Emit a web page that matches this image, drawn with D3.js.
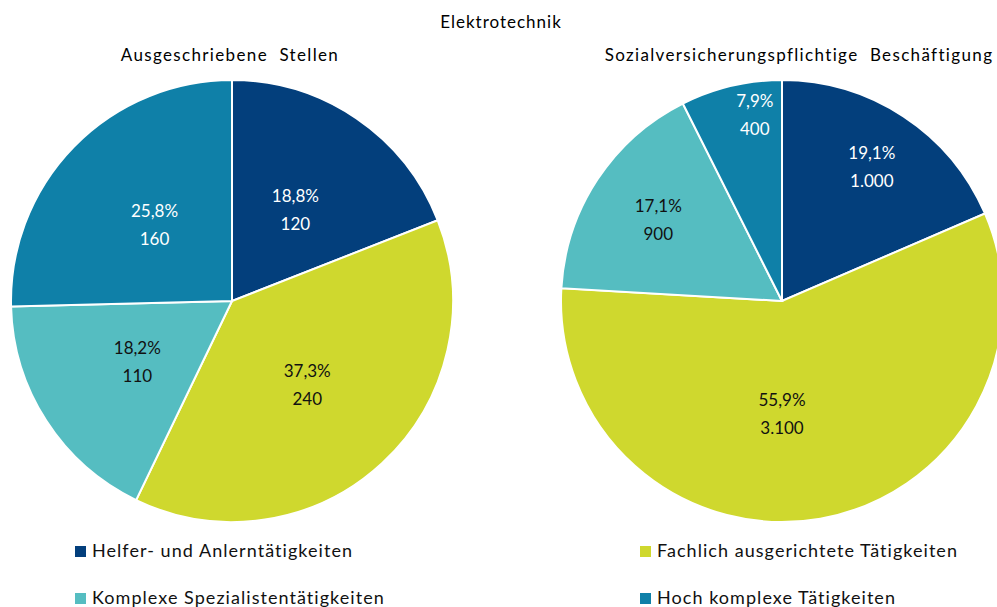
<!DOCTYPE html>
<html>
<head>
<meta charset="UTF-8">
<title>Elektrotechnik</title>
<script src="https://cdn.jsdelivr.net/npm/d3@7"></script>
<style>
  body { margin: 0; background: #fff; }
  text { font-family: Lato, "Open Sans", sans-serif; }
</style>
</head>
<body>
<svg class="chart" width="997" height="607"></svg>

<script>
// data
var categories = ["Helfer- und Anlerntätigkeiten", "Fachlich ausgerichtete Tätigkeiten",
                  "Komplexe Spezialistentätigkeiten", "Hoch komplexe Tätigkeiten"];
var stellenShare = [18.8, 37.3, 18.2, 25.8];
var stellenCount = [120, 240, 110, 160];
var beschShare = [19.1, 55.9, 17.1, 7.9];
var beschCount = [1000, 3100, 900, 400];

var colors = ["#033f7c", "#cfd82e", "#55bdc1", "#0f80a8"];
var labelColors = ["#fff", "#111", "#111", "#fff"];

var de = d3.formatLocale({decimal: ",", thousands: ".", grouping: [3], currency: ["", "€"]});
var fmtPct = function(v){ return de.format(".1f")(v) + "%"; };
var fmtNum = de.format(",d");

var svg = d3.select(".chart");
var R = 221;

svg.append("text")
   .attr("x", 501).attr("y", 28)
   .attr("text-anchor", "middle")
   .style("font-size", "17px")
   .style("letter-spacing", "1px")
   .text("Elektrotechnik");

// label placement (fraction of radius, angle shift in degrees), like the best fit in the original
var leftLabels = [[0.5, 0.7], [0.51, 1], [0.51, 0], [0.49, 0]];
var rightLabels = [[0.73, 0.5], [0.51, 10], [0.67, 0], [0.85, 5]];

function drawPie(cx, cy, title, titleX, share, count, labelPos){
	var g = svg.append("g").attr("transform", "translate(" + cx + "," + cy + ")");

	svg.append("text")
	   .attr("x", titleX).attr("y", 61)
	   .attr("text-anchor", "middle")
	   .style("font-size", "17px")
	   .style("letter-spacing", "1.35px")
	   .style("white-space", "pre")
	   .text(title);

	// slice angles follow the counts, the labels show the published shares
	var data = count.map(function(c, i){ return {share: share[i], count: c, i: i}; });
	var pie = d3.pie().sort(null).value(function(d){ return d.count; });
	var arc = d3.arc().innerRadius(0).outerRadius(R);
	var arcs = pie(data);

	g.selectAll(".slice")
	 .data(arcs)
	 .enter()
	 .append("path")
	 .attr("class", "slice")
	 .attr("d", arc)
	 .attr("fill", function(d){ return colors[d.data.i]; })
	 .attr("stroke", "#fff")
	 .attr("stroke-width", 2);

	var lab = g.selectAll(".lab")
	 .data(arcs)
	 .enter()
	 .append("g")
	 .attr("class", "lab")
	 .attr("transform", function(d){
	 	var p = labelPos[d.data.i];
	 	var a = (d.startAngle + d.endAngle) / 2 + p[1] * Math.PI / 180;
	 	var r = R * p[0];
	 	return "translate(" + (r * Math.sin(a)) + "," + (-r * Math.cos(a)) + ")";
	 })
	 .style("fill", function(d){ return labelColors[d.data.i]; })
	 .style("font-size", "17px")
	 .attr("text-anchor", "middle");

	lab.append("text").attr("y", -8).text(function(d){ return fmtPct(d.data.share); });
	lab.append("text").attr("y", 20).text(function(d){ return fmtNum(d.data.count); });
}

drawPie(232, 301, "Ausgeschriebene  Stellen", 230, stellenShare, stellenCount, leftLabels);
drawPie(782, 301, "Sozialversicherungspflichtige  Beschäftigung", 799, beschShare, beschCount, rightLabels);

// legend
var legendPos = [[75, 551], [640, 551], [75, 598], [640, 598]];
var legend = svg.selectAll(".legend")
	.data(categories)
	.enter()
	.append("g")
	.attr("class", "legend")
	.attr("transform", function(d, i){ return "translate(" + legendPos[i][0] + "," + legendPos[i][1] + ")"; });

legend.append("rect")
	.attr("x", 0).attr("y", -5)
	.attr("width", 11).attr("height", 11)
	.attr("fill", function(d, i){ return colors[i]; });

legend.append("text")
	.attr("x", 17).attr("y", 6)
	.style("font-size", "18px")
	.style("letter-spacing", "1.05px")
	.style("fill", "#111")
	.text(function(d){ return d; });
</script>
</body>
</html>
